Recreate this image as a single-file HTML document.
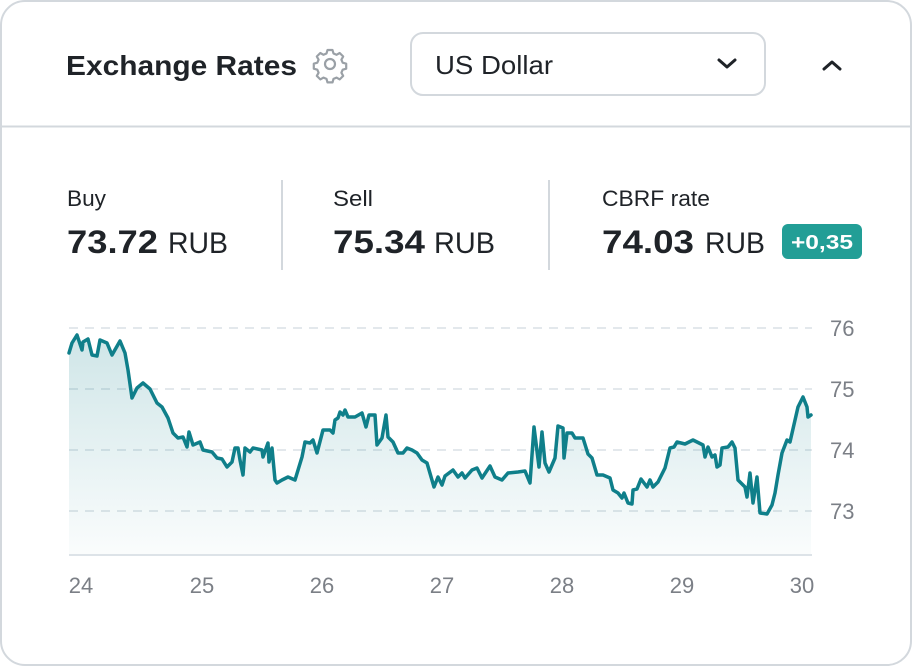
<!DOCTYPE html>
<html><head><meta charset="utf-8"><style>
html,body{margin:0;padding:0;background:#fff;}
svg{display:block;font-family:"Liberation Sans",sans-serif;}
</style></head><body>
<svg width="912" height="666" viewBox="0 0 912 666">
<defs>
<linearGradient id="g" x1="0" y1="0" x2="0" y2="1">
<stop offset="0" stop-color="#0f7f8a" stop-opacity="0.2"/>
<stop offset="1" stop-color="#0f7f8a" stop-opacity="0.02"/>
</linearGradient>
</defs>
<rect x="1" y="1" width="910" height="664" rx="24" fill="#fff" stroke="#d3d8dd" stroke-width="2"/>
<line x1="1" y1="126.5" x2="911" y2="126.5" stroke="#d3d8dd" stroke-width="2"/>
<text x="66" y="75" font-size="28" font-weight="bold" fill="#1f2328" textLength="231" lengthAdjust="spacingAndGlyphs">Exchange Rates</text>
<g transform="translate(330,64)" fill="none" stroke="#9aa0a6" stroke-width="2.2">
<circle r="5"/>
<path d="M-2.5,-14 h5 l1,3.5 l3,1.3 l3.2,-1.8 l3.5,3.5 l-1.8,3.2 l1.3,3 l3.5,1 v5 l-3.5,1 l-1.3,3 l1.8,3.2 l-3.5,3.5 l-3.2,-1.8 l-3,1.3 l-1,3.5 h-5 l-1,-3.5 l-3,-1.3 l-3.2,1.8 l-3.5,-3.5 l1.8,-3.2 l-1.3,-3 l-3.5,-1 v-5 l3.5,-1 l1.3,-3 l-1.8,-3.2 l3.5,-3.5 l3.2,1.8 l3,-1.3 z" stroke-linejoin="round"/>
</g>
<rect x="411" y="33" width="354" height="62" rx="12" fill="#fff" stroke="#d3d8dd" stroke-width="2"/>
<text x="435" y="74" font-size="26" fill="#1f2328" textLength="118" lengthAdjust="spacingAndGlyphs">US Dollar</text>
<path d="M719,60 l8,7 l8,-7" fill="none" stroke="#1f2328" stroke-width="3" stroke-linecap="round" stroke-linejoin="round"/>
<path d="M824,69 l8,-7 l8,7" fill="none" stroke="#1f2328" stroke-width="3" stroke-linecap="round" stroke-linejoin="round"/>

<text x="67" y="206" font-size="22" fill="#1f2328" textLength="39" lengthAdjust="spacingAndGlyphs">Buy</text>
<text x="67" y="253" font-size="32" font-weight="bold" fill="#1f2328" textLength="91" lengthAdjust="spacingAndGlyphs">73.72</text>
<text x="168" y="253" font-size="30" fill="#1f2328" textLength="60" lengthAdjust="spacingAndGlyphs">RUB</text>
<line x1="282" y1="180" x2="282" y2="270" stroke="#d3d8dd" stroke-width="2"/>
<text x="333" y="206" font-size="22" fill="#1f2328" textLength="40" lengthAdjust="spacingAndGlyphs">Sell</text>
<text x="333" y="253" font-size="32" font-weight="bold" fill="#1f2328" textLength="92" lengthAdjust="spacingAndGlyphs">75.34</text>
<text x="434" y="253" font-size="30" fill="#1f2328" textLength="61" lengthAdjust="spacingAndGlyphs">RUB</text>
<line x1="549" y1="180" x2="549" y2="270" stroke="#d3d8dd" stroke-width="2"/>
<text x="602" y="206" font-size="22" fill="#1f2328" textLength="108" lengthAdjust="spacingAndGlyphs">CBRF rate</text>
<text x="602" y="253" font-size="32" font-weight="bold" fill="#1f2328" textLength="92" lengthAdjust="spacingAndGlyphs">74.03</text>
<text x="705" y="253" font-size="30" fill="#1f2328" textLength="60" lengthAdjust="spacingAndGlyphs">RUB</text>
<rect x="782" y="224" width="80" height="35" rx="6" fill="#229e96"/>
<text x="791" y="249" font-size="20" font-weight="bold" fill="#fff" textLength="62" lengthAdjust="spacingAndGlyphs">+0,35</text>

<g stroke="#e3e8ec" stroke-width="2" stroke-dasharray="9,7">
<line x1="69" y1="328" x2="812" y2="328"/>
<line x1="69" y1="389" x2="812" y2="389"/>
<line x1="69" y1="450" x2="812" y2="450"/>
<line x1="69" y1="511" x2="812" y2="511"/>
</g>
<g font-size="22" fill="#7b7f86">
<text x="830" y="336">76</text>
<text x="830" y="397">75</text>
<text x="830" y="458">74</text>
<text x="830" y="519">73</text>
<g text-anchor="middle">
<text x="81" y="593">24</text>
<text x="202" y="593">25</text>
<text x="322" y="593">26</text>
<text x="442" y="593">27</text>
<text x="562" y="593">28</text>
<text x="682" y="593">29</text>
<text x="802" y="593">30</text>
</g></g>
<path fill="url(#g)" d="M69,353 L72,343 77,335 82,350 83,342 88,339 92,355 97,356 100,340 107,343 112,355 120,341 125,353 128,370 132,398 137,388 143,383 150,389 157,403 162,407 168,418 173,433 178,438 183,437 187,447 189,432 193,445 200,442 203,450 212,452 217,458 222,459 227,467 232,462 235,448 238,448 240,460 243,475 245,448 250,452 253,448 262,450 263,457 268,443 269,462 272,448 275,480 277,483 282,480 288,477 295,480 302,457 305,442 310,443 313,440 317,453 323,430 330,430 333,433 335,420 338,418 340,412 343,415 345,410 348,417 355,417 362,413 366,427 369,415 375,415 377,445 382,438 386,415 388,437 393,442 398,453 403,453 407,448 412,450 417,453 422,460 427,463 434,487 438,477 442,485 445,476 453,470 458,477 462,473 465,478 472,470 477,468 482,478 490,466 495,477 502,480 508,473 518,472 525,471 530,483 534,427 539,467 542,432 545,463 549,472 555,458 558,426 563,428 564,458 567,433 572,433 575,438 583,438 588,454 592,458 597,475 603,475 610,478 613,490 618,493 622,498 624,493 628,503 632,504 633,490 637,489 641,479 647,487 650,480 653,487 658,482 665,468 670,448 674,447 677,442 685,444 693,440 703,445 705,457 708,447 712,457 715,455 717,467 720,465 722,448 728,447 732,442 735,448 738,480 745,487 747,497 750,473 753,503 757,477 760,513 767,514 772,505 775,493 778,475 782,453 787,440 790,442 798,407 803,397 807,407 808,417 811,415 L811,555 L69,555 Z"/>
<polyline fill="none" stroke="#0f7f8a" stroke-width="3.5" stroke-linejoin="round" stroke-linecap="round" points="69,353 72,343 77,335 82,350 83,342 88,339 92,355 97,356 100,340 107,343 112,355 120,341 125,353 128,370 132,398 137,388 143,383 150,389 157,403 162,407 168,418 173,433 178,438 183,437 187,447 189,432 193,445 200,442 203,450 212,452 217,458 222,459 227,467 232,462 235,448 238,448 240,460 243,475 245,448 250,452 253,448 262,450 263,457 268,443 269,462 272,448 275,480 277,483 282,480 288,477 295,480 302,457 305,442 310,443 313,440 317,453 323,430 330,430 333,433 335,420 338,418 340,412 343,415 345,410 348,417 355,417 362,413 366,427 369,415 375,415 377,445 382,438 386,415 388,437 393,442 398,453 403,453 407,448 412,450 417,453 422,460 427,463 434,487 438,477 442,485 445,476 453,470 458,477 462,473 465,478 472,470 477,468 482,478 490,466 495,477 502,480 508,473 518,472 525,471 530,483 534,427 539,467 542,432 545,463 549,472 555,458 558,426 563,428 564,458 567,433 572,433 575,438 583,438 588,454 592,458 597,475 603,475 610,478 613,490 618,493 622,498 624,493 628,503 632,504 633,490 637,489 641,479 647,487 650,480 653,487 658,482 665,468 670,448 674,447 677,442 685,444 693,440 703,445 705,457 708,447 712,457 715,455 717,467 720,465 722,448 728,447 732,442 735,448 738,480 745,487 747,497 750,473 753,503 757,477 760,513 767,514 772,505 775,493 778,475 782,453 787,440 790,442 798,407 803,397 807,407 808,417 811,415"/>
<line x1="69" y1="555" x2="812" y2="555" stroke="#dde3e8" stroke-width="2"/>
</svg>
</body></html>
